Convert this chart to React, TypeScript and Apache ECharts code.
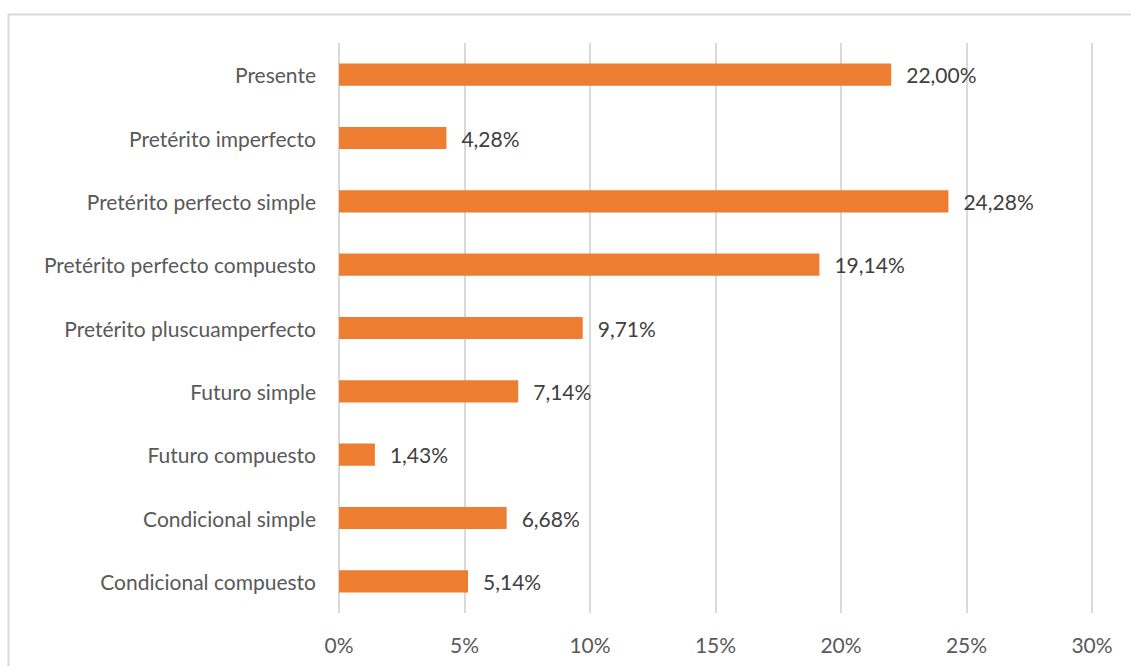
import React, { useEffect, useRef } from "react";
import * as echarts from "echarts";

const categories = [
  "Presente",
  "Pretérito imperfecto",
  "Pretérito perfecto simple",
  "Pretérito perfecto compuesto",
  "Pretérito pluscuamperfecto",
  "Futuro simple",
  "Futuro compuesto",
  "Condicional simple",
  "Condicional compuesto",
];
const values = [22.0, 4.28, 24.28, 19.14, 9.71, 7.14, 1.43, 6.68, 5.14];
const axisMax = 30;
const axisInterval = 5;

const FONT = "Lato";

export default function App() {
  const ref = useRef<HTMLDivElement>(null);
  useEffect(() => {
    document.body.style.margin = "0";
    const chart = echarts.init(ref.current!, null, { renderer: "svg" });
    chart.setOption({
      animation: false,
      backgroundColor: "#ffffff",
      textStyle: { fontFamily: FONT },
      graphic: [
        {
          type: "rect",
          shape: { x: 8.5, y: 14.5, width: 1200, height: 700 },
          style: { fill: "none", stroke: "#d9d9d9", lineWidth: 2 },
          silent: true,
        },
      ],
      grid: { left: 339, right: 39, top: 43, bottom: 53 },
      xAxis: {
        type: "value",
        min: 0,
        max: axisMax,
        interval: axisInterval,
        axisLine: { show: false },
        axisTick: { show: false },
        splitLine: { lineStyle: { color: "#d9d9d9", width: 2 } },
        axisLabel: {
          formatter: (v: number) => v + "%",
          color: "#595959",
          fontSize: 21,
          fontFamily: FONT,
          margin: 21,
        },
      },
      yAxis: {
        type: "category",
        data: categories,
        inverse: true,
        axisLine: { show: false },
        axisTick: { show: false },
        axisLabel: {
          color: "#595959",
          fontSize: 21,
          fontFamily: FONT,
          margin: 23,
        },
      },
      series: [
        {
          type: "bar",
          data: values,
          barWidth: "35%",
          itemStyle: { color: "#ed7d31" },
          label: {
            show: true,
            position: "right",
            distance: 15,
            color: "#404040",
            fontSize: 21,
            fontFamily: FONT,
            formatter: (p: any) => p.value.toFixed(2).replace(".", ",") + "%",
          },
        },
      ],
    });
    return () => chart.dispose();
  }, []);
  return (
    <div
      ref={ref}
      style={{ position: "absolute", left: 0, top: 0, width: 1131, height: 666 }}
    />
  );
}
